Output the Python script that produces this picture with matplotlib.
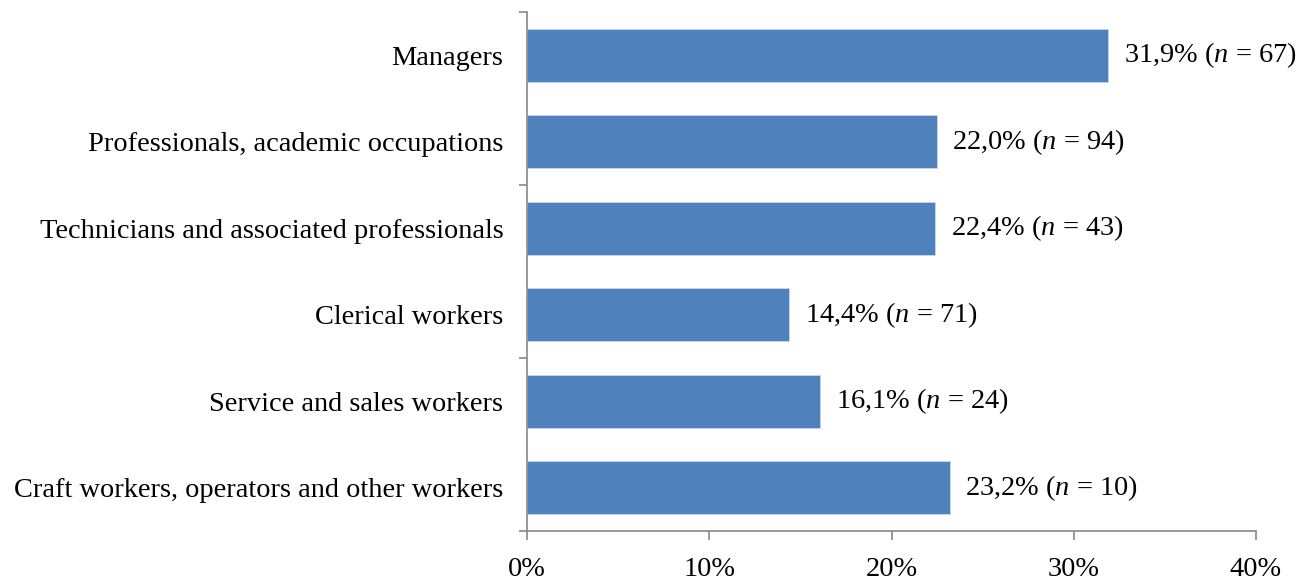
import matplotlib
matplotlib.use("Agg")
import matplotlib.pyplot as plt
from matplotlib.ticker import FixedLocator, PercentFormatter

categories = [
    "Managers",
    "Professionals, academic occupations",
    "Technicians and associated professionals",
    "Clerical workers",
    "Service and sales workers",
    "Craft workers, operators and other workers",
]
# bar lengths as drawn in the picture
bar_values = [31.9, 22.5, 22.4, 14.4, 16.1, 23.2]
# values printed in the data labels
label_values = [31.9, 22.0, 22.4, 14.4, 16.1, 23.2]
counts = [67, 94, 43, 71, 24, 10]
x_ticks = [0, 10, 20, 30, 40]

plt.rcParams['font.family'] = ['Liberation Serif', 'DejaVu Serif']
plt.rcParams['mathtext.fontset'] = 'custom'
plt.rcParams['mathtext.rm'] = 'Liberation Serif'
plt.rcParams['mathtext.it'] = 'Liberation Serif:italic'

FS = 20.4
fig = plt.figure(figsize=(13.11, 5.81), dpi=100)
ax = fig.add_axes([527/1311, 1 - 531/581, (1256-527)/1311, (531-12)/581])

y = list(range(len(categories)))
ax.barh(y, bar_values, height=0.61, color='#4F81BD', edgecolor='#c9d7ea', linewidth=0.6)

for yi, b, p, n in zip(y, bar_values, label_values, counts):
    lbl = f"{p:.1f}".replace('.', ',') + "% ($n$ = " + str(n) + ")"
    ax.annotate(lbl, xy=(b, yi), xytext=(11, 0), textcoords='offset points',
                va='center', ha='left', fontsize=FS)

ax.set_xlim(0, 40)
ax.set_ylim(len(categories) - 0.5, -0.5)
ax.set_xticks(x_ticks)
ax.xaxis.set_major_formatter(PercentFormatter(decimals=0))
ax.set_yticks(y)
ax.set_yticklabels(categories)
ax.yaxis.set_minor_locator(FixedLocator([-0.5, 1.5, 3.5, 5.5]))

gray = '#888888'
for s in ['top', 'right']:
    ax.spines[s].set_visible(False)
for s in ['left', 'bottom']:
    ax.spines[s].set_color(gray)
    ax.spines[s].set_linewidth(1.2)

ax.tick_params(axis='y', which='major', length=0, pad=17, labelsize=FS)
ax.tick_params(axis='y', which='minor', length=5.5, width=1.2, color=gray, direction='out')
ax.tick_params(axis='x', which='major', length=6.5, width=1.2, color=gray, direction='out', pad=12, labelsize=FS)

fig.savefig('out.png', dpi=100)
